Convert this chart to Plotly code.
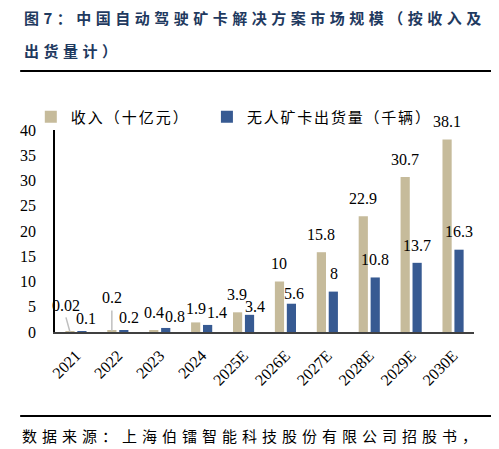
import plotly.graph_objects as go

# ---------------- data ----------------
categories = ["2021", "2022", "2023", "2024", "2025E", "2026E", "2027E", "2028E", "2029E", "2030E"]
revenue = [0.02, 0.2, 0.4, 1.9, 3.9, 10, 15.8, 22.9, 30.7, 38.1]
shipments = [0.1, 0.2, 0.8, 1.4, 3.4, 5.6, 8, 10.8, 13.7, 16.3]
revenue_labels = ["0.02", "0.2", "0.4", "1.9", "3.9", "10", "15.8", "22.9", "30.7", "38.1"]
shipment_labels = ["0.1", "0.2", "0.8", "1.4", "3.4", "5.6", "8", "10.8", "13.7", "16.3"]
y_ticks = [0, 5, 10, 15, 20, 25, 30, 35, 40]
series_names = ["收入（十亿元）", "无人矿卡出货量（千辆）"]
title_line1 = "图7：中国自动驾驶矿卡解决方案市场规模（按收入及"
title_line2 = "出货量计）"
source_text = "数据来源：上海伯镭智能科技股份有限公司招股书，"

# ---------------- style ----------------
BEIGE = "#C6BB9B"
BLUE = "#375A92"
TITLE_COLOR = "#1F3A60"
SERIF = "Liberation Serif, Times New Roman, serif"
CJK = "Noto Sans CJK SC, sans-serif"


def spaced(txt, px_gap):
    return '<span style="letter-spacing:%spx">%s</span>' % (px_gap, txt)


PAGE_OFF = 8            # default body margin of the page
W, H = 491, 441
L, T = 33, 122
PW, PH = 433, 202
R = W - L - PW
B = H - T - PH


def px(x):  # page pixel -> paper x
    return (x - PAGE_OFF - L) / PW


def py(y):  # page pixel -> paper y
    return (T + PH - (y - PAGE_OFF)) / PH


# label nudges (pixel offsets relative to default "outside end" placement)
rev_nudge = {0: (-3.6, 8.7), 1: (0.6, 15.3), 3: (1.0, -3.7)}
ship_nudge = {0: (4.0, -4.2), 1: (4.6, -4.7), 2: (9.5, -6.7), 3: (9.0, -5.7),
              4: (5.7, -9.7), 5: (2.0, -7.7)}
BAR_OFF = 6.2
LABEL_UP = 17.7

fig = go.Figure()
fig.add_trace(go.Bar(x=categories, y=revenue, name=spaced(series_names[0], 2),
                     marker=dict(color=BEIGE, line=dict(width=0)), legend="legend"))
fig.add_trace(go.Bar(x=categories, y=shipments, name=spaced(series_names[1], 1.8),
                     marker=dict(color=BLUE, line=dict(width=0)), legend="legend2"))

annotations = []
for i, (v, t) in enumerate(zip(revenue, revenue_labels)):
    dx, dy = rev_nudge.get(i, (0, 0))
    annotations.append(dict(x=i, y=v, xref="x", yref="y", text=t, showarrow=False,
                            xshift=-BAR_OFF + dx, yshift=LABEL_UP + dy,
                            xanchor="center", yanchor="middle",
                            font=dict(family=SERIF, size=16, color="#000000")))
for i, (v, t) in enumerate(zip(shipments, shipment_labels)):
    dx, dy = ship_nudge.get(i, (0, 0))
    annotations.append(dict(x=i, y=v, xref="x", yref="y", text=t, showarrow=False,
                            xshift=BAR_OFF + dx, yshift=LABEL_UP + dy,
                            xanchor="center", yanchor="middle",
                            font=dict(family=SERIF, size=16, color="#000000")))

annotations += [
    dict(x=px(7), y=py(18), xref="paper", yref="paper", text=spaced(title_line1, 4.5),
         showarrow=False, xanchor="left", yanchor="middle",
         font=dict(family=CJK, size=15, color=TITLE_COLOR, weight="bold")),
    dict(x=px(7), y=py(50), xref="paper", yref="paper", text=spaced(title_line2, 4.5),
         showarrow=False, xanchor="left", yanchor="middle",
         font=dict(family=CJK, size=15, color=TITLE_COLOR, weight="bold")),
    dict(x=px(5), y=py(435), xref="paper", yref="paper", text=spaced(source_text, 5),
         showarrow=False, xanchor="left", yanchor="middle",
         font=dict(family=CJK, size=15, color="#000000")),
]

shapes = [
    dict(type="line", xref="paper", yref="paper", x0=px(5), x1=px(493), y0=py(71), y1=py(71),
         line=dict(color="#000000", width=2)),
    dict(type="line", xref="paper", yref="paper", x0=px(5), x1=px(493), y0=py(416), y1=py(416),
         line=dict(color="#000000", width=2)),
    # leader lines for the tiny 2021 / 2022 revenue bars (anchored at category index)
    dict(type="line", xref="x", yref="y", xsizemode="pixel", ysizemode="pixel",
         xanchor=0, yanchor=revenue[0], x0=-6, x1=-10, y0=0, y1=14.5,
         line=dict(color="#BFBFBF", width=1.5)),
    dict(type="line", xref="x", yref="y", xsizemode="pixel", ysizemode="pixel",
         xanchor=1, yanchor=revenue[1], x0=-6, x1=-6, y0=0, y1=20.5,
         line=dict(color="#BFBFBF", width=1.5)),
]

legend_common = dict(orientation="h", y=py(117), xanchor="left", yanchor="middle",
                     font=dict(family=CJK, size=15, color="#000000"),
                     bgcolor="rgba(0,0,0,0)", itemwidth=30)

fig.update_layout(
    width=W, height=H,
    margin=dict(l=L, r=R, t=T, b=B, pad=0),
    paper_bgcolor="#FFFFFF", plot_bgcolor="#FFFFFF",
    barmode="group", bargap=0.43, bargroupgap=0.23,
    showlegend=True,
    legend=dict(x=px(16), **legend_common),
    legend2=dict(x=px(198), **legend_common),
    annotations=annotations,
    shapes=shapes,
    xaxis=dict(type="category", categoryorder="array", categoryarray=categories,
               range=[-0.5, len(categories) - 0.5],
               showgrid=False, zeroline=False, showline=True,
               linecolor="#404040", linewidth=2, ticks="", tickangle=-45,
               ticklabelstandoff=6,
               tickfont=dict(family=SERIF, size=16, color="#000000")),
    yaxis=dict(range=[0, 40], tickvals=y_ticks, showgrid=False, zeroline=False,
               showline=True, linecolor="#000000", linewidth=1.5, ticks="",
               ticklabelstandoff=14,
               tickfont=dict(family=SERIF, size=16, color="#000000")),
)

fig.write_html("out.html")
